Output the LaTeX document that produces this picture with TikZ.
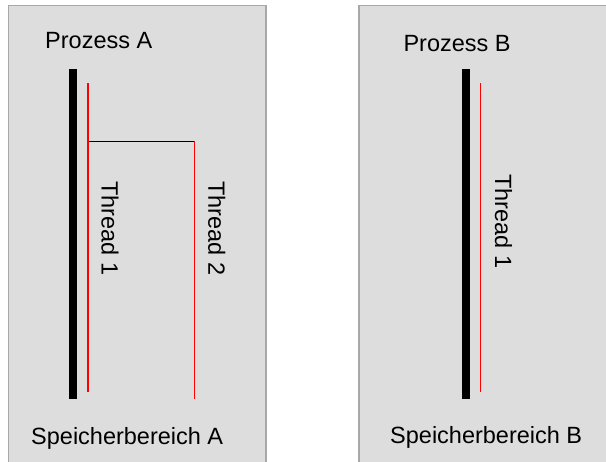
\documentclass[tikz,border=0pt]{standalone}
\usepackage{fontspec}
\setmainfont{Liberation Sans}
\definecolor{panelfill}{HTML}{DDDDDD}
\definecolor{panelline}{HTML}{A8A8A8}
\definecolor{threadred}{HTML}{FF0000}
\begin{document}
\begin{tikzpicture}[x=1pt,y=-1pt,
  panel/.style={fill=panelfill,draw=panelline,line width=1.2pt},
  procbar/.style={fill=black,draw=none},
  threadline/.style={draw=threadred,line width=1.1pt},
  spawnline/.style={draw=black,line width=1.1pt},
  lbl/.style={font=\fontsize{23.5}{28}\selectfont,inner sep=0pt,anchor=base west},
  vlbl/.style={lbl,rotate=-90}]
\clip (0,0) rectangle (606,462);
\useasboundingbox (0,0) rectangle (606,462);
% memory regions
\draw[panel] (8.5,5.3) rectangle (266,475);
\draw[panel] (359,5.3) rectangle (620,475);
% process A
\node[lbl] (pa) at (45,48.3) {Prozess A};
\fill[procbar] (69,69) rectangle (77,399);
\coordinate (t1s) at (88,83.3);
\coordinate (t1e) at (88,392.3);
\coordinate (fork) at (88.5,141.5);
\coordinate (t2s) at (194.5,141.5);
\coordinate (t2e) at (194.5,399.3);
\draw[spawnline] (fork) -- (t2s);
\draw[threadline] (t1s) -- (t1e);
\draw[threadline] (t2s) -- (t2e);
\node[vlbl] (la1) at (101.7,181) {Thread 1};
\node[vlbl] (la2) at (208.3,181) {Thread 2};
\node[lbl] (sa) at (31,444.3) {Speicherbereich A};
% process B
\node[lbl] (pb) at (403.3,51.7) {Prozess B};
\fill[procbar] (462,69) rectangle (470,399);
\coordinate (b1s) at (480.5,83.3);
\coordinate (b1e) at (480.5,392.3);
\draw[threadline] (b1s) -- (b1e);
\node[vlbl] (lb1) at (495,174) {Thread 1};
\node[lbl] (sb) at (390,444) {Speicherbereich B};
\end{tikzpicture}
\end{document}
